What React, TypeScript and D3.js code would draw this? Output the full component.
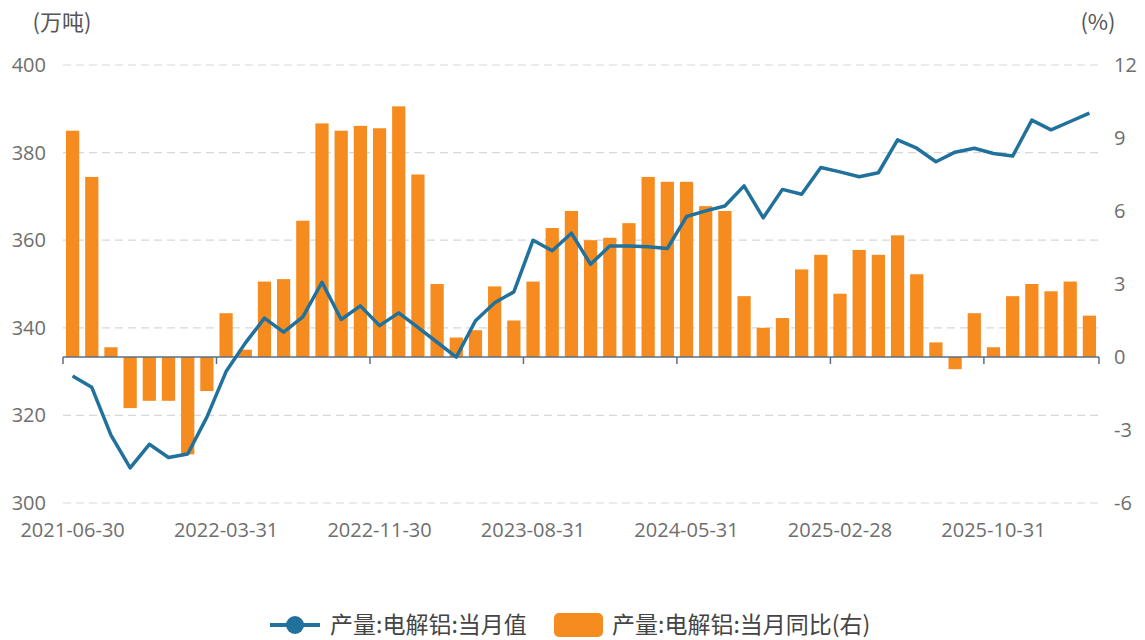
import React, { useEffect, useRef } from "react";
import * as d3 from "d3";

// month-end dates (January is merged into February in the source, so it is skipped)
const dates = [
  "2021-06-30", "2021-07-31", "2021-08-31", "2021-09-30", "2021-10-31", "2021-11-30", "2021-12-31",
  "2022-02-28", "2022-03-31", "2022-04-30", "2022-05-31", "2022-06-30", "2022-07-31", "2022-08-31",
  "2022-09-30", "2022-10-31", "2022-11-30", "2022-12-31",
  "2023-02-28", "2023-03-31", "2023-04-30", "2023-05-31", "2023-06-30", "2023-07-31", "2023-08-31",
  "2023-09-30", "2023-10-31", "2023-11-30", "2023-12-31",
  "2024-02-29", "2024-03-31", "2024-04-30", "2024-05-31", "2024-06-30", "2024-07-31", "2024-08-31",
  "2024-09-30", "2024-10-31", "2024-11-30", "2024-12-31",
  "2025-02-28", "2025-03-31", "2025-04-30", "2025-05-31", "2025-06-30", "2025-07-31", "2025-08-31",
  "2025-09-30", "2025-10-31", "2025-11-30", "2025-12-31",
  "2026-02-28", "2026-03-31", "2026-04-30",
];

// 产量:电解铝:当月值 (万吨)
const output = [
  329.0, 326.4, 315.5, 308.0, 313.4, 310.4, 311.2,
  319.6, 330.0, 336.5, 342.2, 339.0, 342.5, 350.4, 341.9, 345.0, 340.5, 343.4,
  340.1, 336.7, 333.3, 341.6, 345.7, 348.2, 360.0, 357.6, 361.6, 354.5, 358.7,
  358.7, 358.5, 358.1, 365.4, 366.7, 367.8, 372.4, 365.1, 371.6, 370.5, 376.6,
  375.6, 374.5, 375.4, 382.9, 381.0, 377.9, 380.1, 381.0, 379.8, 379.2, 387.4,
  385.2, 387.1, 389.0,
];

// 产量:电解铝:当月同比 (%)
const yoy = [
  9.3, 7.4, 0.4, -2.1, -1.8, -1.8, -4.0,
  -1.4, 1.8, 0.3, 3.1, 3.2, 5.6, 9.6, 9.3, 9.5, 9.4, 10.3,
  7.5, 3.0, 0.8, 1.1, 2.9, 1.5, 3.1, 5.3, 6.0, 4.8, 4.9,
  5.5, 7.4, 7.2, 7.2, 6.2, 6.0, 2.5, 1.2, 1.6, 3.6, 4.2,
  2.6, 4.4, 4.2, 5.0, 3.4, 0.6, -0.5, 1.8, 0.4, 2.5, 3.0,
  2.7, 3.1, 1.7,
];

const leftTicks = [300, 320, 340, 360, 380, 400];
const rightTicks = [-6, -3, 0, 3, 6, 9, 12];
const seriesNames = ["产量:电解铝:当月值", "产量:电解铝:当月同比(右)"];

const LINE_COLOR = "#21719d";
const BAR_COLOR = "#f68b1f";
const LABEL_COLOR = "#6e6e6e";
const NUM_FONT = "'Open Sans', 'Noto Sans', sans-serif";
const CJK_FONT = "'Noto Sans CJK SC', sans-serif";

function ComboChart() {
  const ref = useRef<HTMLDivElement>(null);

  useEffect(() => {
    const width = 1145;
    const height = 640;
    const left = 63;
    const right = 1099;
    const top = 65;
    const bottom = 503;

    d3.select(ref.current).select("svg").remove();

    const svg = d3
      .select(ref.current)
      .append("svg")
      .attr("width", width)
      .attr("height", height)
      .style("position", "absolute")
      .style("left", "0px")
      .style("top", "0px")
      .style("background", "#fff");

    const x = d3
      .scaleBand()
      .domain(dates)
      .range([left, right])
      .paddingInner(0.31)
      .paddingOuter(0.155);

    const yL = d3.scaleLinear().domain([300, 400]).range([bottom, top]);
    const yR = d3.scaleLinear().domain([-6, 12]).range([bottom, top]);

    // dashed grid lines from the left axis
    svg
      .append("g")
      .selectAll("line")
      .data(leftTicks)
      .enter()
      .append("line")
      .attr("x1", left)
      .attr("x2", right)
      .attr("y1", (d) => yL(d))
      .attr("y2", (d) => yL(d))
      .attr("stroke", "#d8d8d8")
      .attr("stroke-width", 1.2)
      .attr("stroke-dasharray", "8,5");

    // left axis labels
    svg
      .append("g")
      .selectAll("text")
      .data(leftTicks)
      .enter()
      .append("text")
      .attr("x", left - 17)
      .attr("y", (d) => yL(d))
      .attr("dy", "0.35em")
      .attr("text-anchor", "end")
      .attr("font-family", NUM_FONT)
      .attr("font-size", 20)
      .attr("fill", LABEL_COLOR)
      .text((d) => d);

    // right axis labels
    svg
      .append("g")
      .selectAll("text")
      .data(rightTicks)
      .enter()
      .append("text")
      .attr("x", right + 15)
      .attr("y", (d) => yR(d))
      .attr("dy", "0.35em")
      .attr("text-anchor", "start")
      .attr("font-family", NUM_FONT)
      .attr("font-size", 20)
      .attr("fill", LABEL_COLOR)
      .text((d) => d);

    // axis titles
    svg
      .append("text")
      .attr("x", 62)
      .attr("y", 30)
      .attr("text-anchor", "middle")
      .attr("font-family", CJK_FONT)
      .attr("font-size", 22)
      .attr("fill", "#555")
      .text("(万吨)");

    svg
      .append("text")
      .attr("x", 1098)
      .attr("y", 30)
      .attr("text-anchor", "middle")
      .attr("font-family", CJK_FONT)
      .attr("font-size", 22)
      .attr("fill", "#555")
      .text("(%)");

    // bars (right axis)
    svg
      .append("g")
      .selectAll("rect")
      .data(yoy)
      .enter()
      .append("rect")
      .attr("x", (d, i) => x(dates[i]))
      .attr("width", x.bandwidth())
      .attr("y", (d) => yR(Math.max(0, d)))
      .attr("height", (d) => Math.abs(yR(d) - yR(0)))
      .attr("fill", BAR_COLOR);

    // category axis at right-axis zero
    const y0 = yR(0);
    svg
      .append("line")
      .attr("x1", left)
      .attr("x2", right)
      .attr("y1", y0)
      .attr("y2", y0)
      .attr("stroke", "#5d6e80")
      .attr("stroke-width", 1.5);

    const step = x.step();
    const tickIdx = Array.from(new Set(d3.range(0, dates.length + 1, 8).concat([dates.length])));
    svg
      .append("g")
      .selectAll("line")
      .data(tickIdx)
      .enter()
      .append("line")
      .attr("x1", (i) => left + i * step)
      .attr("x2", (i) => left + i * step)
      .attr("y1", y0)
      .attr("y2", y0 + 7)
      .attr("stroke", "#5d6e80")
      .attr("stroke-width", 1.5);

    svg
      .append("g")
      .selectAll("text")
      .data(dates.filter((d, i) => i % 8 === 0))
      .enter()
      .append("text")
      .attr("x", (d) => x(d) + x.bandwidth() / 2)
      .attr("y", 537)
      .attr("text-anchor", "middle")
      .attr("font-family", NUM_FONT)
      .attr("font-size", 20)
      .attr("fill", LABEL_COLOR)
      .text((d) => d);

    // line (left axis)
    const line = d3
      .line<number>()
      .x((d, i) => x(dates[i]) + x.bandwidth() / 2)
      .y((d) => yL(d));

    svg
      .append("path")
      .datum(output)
      .attr("d", line)
      .attr("fill", "none")
      .attr("stroke", LINE_COLOR)
      .attr("stroke-width", 3.5)
      .attr("stroke-linejoin", "round");

    // legend
    const lg = svg.append("g");
    lg.append("line")
      .attr("x1", 270)
      .attr("x2", 320)
      .attr("y1", 625)
      .attr("y2", 625)
      .attr("stroke", LINE_COLOR)
      .attr("stroke-width", 4);
    lg.append("circle")
      .attr("cx", 295)
      .attr("cy", 625)
      .attr("r", 9)
      .attr("fill", LINE_COLOR);
    lg.append("text")
      .attr("x", 330)
      .attr("y", 625)
      .attr("dy", "0.36em")
      .attr("font-family", CJK_FONT)
      .attr("font-size", 23)
      .attr("fill", "#444")
      .text(seriesNames[0]);
    lg.append("rect")
      .attr("x", 554)
      .attr("y", 613)
      .attr("width", 49)
      .attr("height", 24)
      .attr("rx", 5)
      .attr("fill", BAR_COLOR);
    lg.append("text")
      .attr("x", 612)
      .attr("y", 625)
      .attr("dy", "0.36em")
      .attr("font-family", CJK_FONT)
      .attr("font-size", 23)
      .attr("fill", "#444")
      .text(seriesNames[1]);
  }, []);

  return <div ref={ref}></div>;
}

export default function App() {
  return <ComboChart />;
}
